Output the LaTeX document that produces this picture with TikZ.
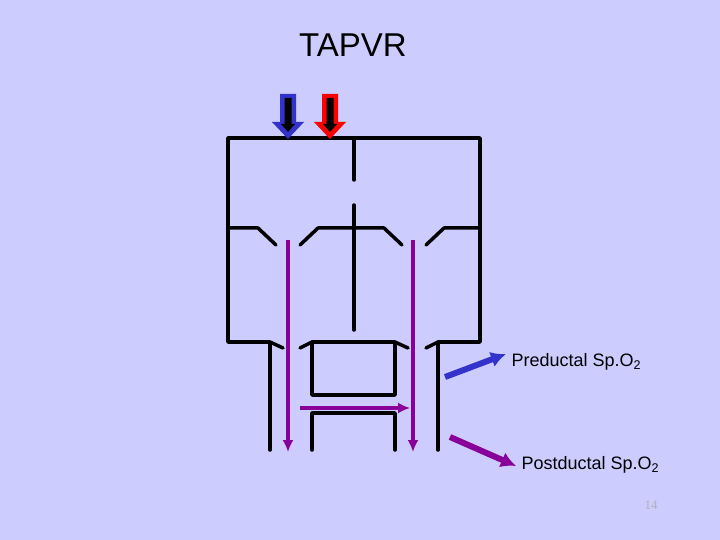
\documentclass[tikz,border=0pt]{standalone}
\usepackage{fontspec}
\setmainfont{Liberation Sans}
\newfontfamily\pgnum{Liberation Serif}
\usetikzlibrary{arrows.meta}
\begin{document}
\begin{tikzpicture}[x=1pt,y=-1pt,
 wall/.style={line width=3.5pt,line cap=round,line join=round},
 flow/.style={line width=3.5pt,draw=purp,-{Latex[length=12pt,width=11pt]}},
 lbl/.style={anchor=west,font=\fontsize{18pt}{21pt}\selectfont}]
\definecolor{bg}{RGB}{204,204,255}
\definecolor{purp}{RGB}{136,0,153}
\definecolor{blu}{RGB}{51,51,204}
\useasboundingbox[fill=bg] (0,0) rectangle (720,540);
\node (title) at (353,45) {\fontsize{33pt}{38pt}\selectfont TAPVR};
% atria
\draw[wall] (354,180) -- (354,138) -- (228,138) -- (228,342) -- (270,342) -- (270,450);
\draw[wall] (354,138) -- (480,138) -- (480,342) -- (438,342) -- (438,450);
\draw[wall] (354,205) -- (354,330);
\draw[wall] (228,228) -- (258,228) -- (276,245);
\draw[wall] (300,245) -- (318,228) -- (384,228) -- (402,245);
\draw[wall] (426,245) -- (444,228) -- (480,228);
\draw[wall] (270,342) -- (283,348);
\draw[wall] (300,348) -- (312,342);
\draw[wall] (395,342) -- (408,348);
\draw[wall] (426,348) -- (438,342);
\draw[wall] (312,342) rectangle (395,395);
\draw[wall] (312,450) -- (312,413) -- (395,413) -- (395,450);
% flows
\coordinate (la) at (288,240); \coordinate (lb) at (288,452);
\coordinate (ra) at (413,240); \coordinate (rb) at (413,452);
\coordinate (ha) at (300,408); \coordinate (hb) at (410,408);
\draw[flow] (la) -- (lb);
\draw[flow] (ra) -- (rb);
\draw[flow] (ha) -- (hb);
% inflow arrows
\foreach \xx/\cc in {288/blu,330/red}{
 \fill[\cc] (\xx-8,94) -- (\xx+8,94) -- (\xx+8,122) -- (\xx+16,122) -- (\xx,139) -- (\xx-16,122) -- (\xx-8,122) -- cycle;
 \fill[black] (\xx-3.5,98) -- (\xx+3.5,98) -- (\xx+3.5,124) -- (\xx+7,124) -- (\xx,132) -- (\xx-7,124) -- (\xx-3.5,124) -- cycle;
}
% labels
\node[lbl] (pre) at (508,362) {Preductal Sp.O\textsubscript{2}};
\node[lbl] (post) at (518,465) {Postductal Sp.O\textsubscript{2}};
\coordinate (pa) at (445,377); \coordinate (pb) at (506,354);
\coordinate (qa) at (450,437); \coordinate (qb) at (516,466);
\draw[line width=6pt,blu,-{Latex[length=15pt,width=16pt]}] (pa) -- (pb);
\draw[line width=6pt,purp,-{Latex[length=15pt,width=16pt]}] (qa) -- (qb);
\node[font=\pgnum\fontsize{13pt}{15pt}\selectfont,text=white!40!gray] (pg) at (651,505) {14};
\end{tikzpicture}
\end{document}
